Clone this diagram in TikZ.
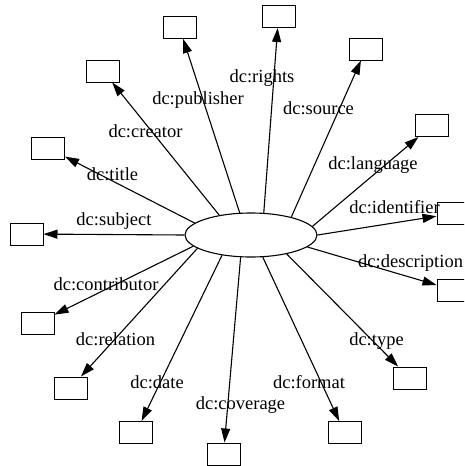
\documentclass[tikz,border=0pt]{standalone}
\usepackage{fontspec}
\setmainfont{Liberation Serif}
\usetikzlibrary{shapes.geometric,arrows.meta}
\tikzset{
  x=1pt, y=-1pt,
  box/.style={draw, line width=1pt, minimum width=33pt, minimum height=22pt, inner sep=0pt},
  hub/.style={draw, ellipse, line width=1.1pt, minimum width=132pt, minimum height=44pt, inner sep=0pt},
  edge/.style={line width=1.1pt, -{Triangle[length=14pt,width=9pt]}},
  lbl/.style={anchor=base, inner sep=0pt, font=\fontsize{18.5pt}{20pt}\selectfont}
}
\begin{document}
\begin{tikzpicture}
\useasboundingbox (0,0) rectangle (464,466);
\clip (0,0) rectangle (464,466);
\node[hub] (e) at (251,235) {};
% boxes
\node[box] (publisher) at (179.5,27.5) {};
\node[box] (creator) at (103,71) {};
\node[box] (title) at (48,148) {};
\node[box] (subject) at (26.5,234) {};
\node[box] (rights) at (278.5,16.5) {};
\node[box] (source) at (366,49) {};
\node[box] (language) at (432,125.5) {};
\node[box] (identifier) at (453.5,213.5) {};
\node[box] (description) at (453.5,290) {};
\node[box] (contributor) at (37.5,323) {};
\node[box] (relation) at (70.5,388) {};
\node[box] (date) at (136,432.5) {};
\node[box] (coverage) at (223.5,454) {};
\node[box] (format) at (344.5,432.5) {};
\node[box] (type) at (409.5,378) {};
% edges
\draw[edge] (e.180) -- (subject);
\draw[edge] (e.168.9) -- (title);
\draw[edge] (e.148.8) -- (creator);
\draw[edge] (e.117.6) -- (publisher);
\draw[edge] (e.60.3) -- (rights);
\draw[edge] (e.24.4) -- (source);
\draw[edge] (e.8.6) -- (language);
\draw[edge] (e.-0.9) -- (identifier);
\draw[edge] (e.-12.6) -- (description);
\draw[edge] (e.-28.6) -- (type);
\draw[edge] (e.-62.4) -- (format);
\draw[edge] (e.-115.6) -- (coverage);
\draw[edge] (e.-145.1) -- (date);
\draw[edge] (e.-166) -- (relation);
\draw[edge] (e.-169) -- (contributor);
% labels
\node[lbl] (lrights) at (262,82) {dc:rights};
\node[lbl] (lpublisher) at (198,104) {dc:publisher};
\node[lbl] (lcreator) at (145.5,137) {dc:creator};
\node[lbl] (ltitle) at (112.5,180) {dc:title};
\node[lbl] (lsubject) at (114,225) {dc:subject};
\node[lbl] (lsource) at (318.5,114) {dc:source};
\node[lbl] (llanguage) at (373,169) {dc:language};
\node[lbl] (lidentifier) at (394.5,213) {dc:identifier};
\node[lbl, anchor=base west] (ldescription) at (358,267) {dc:description};
\node[lbl] (lcontributor) at (106,290) {dc:contributor};
\node[lbl] (lrelation) at (115.5,345) {dc:relation};
\node[lbl] (ltype) at (376.5,345) {dc:type};
\node[lbl] (ldate) at (157,388) {dc:date};
\node[lbl] (lformat) at (309,388) {dc:format};
\node[lbl] (lcoverage) at (240.5,409) {dc:coverage};
\end{tikzpicture}
\end{document}
